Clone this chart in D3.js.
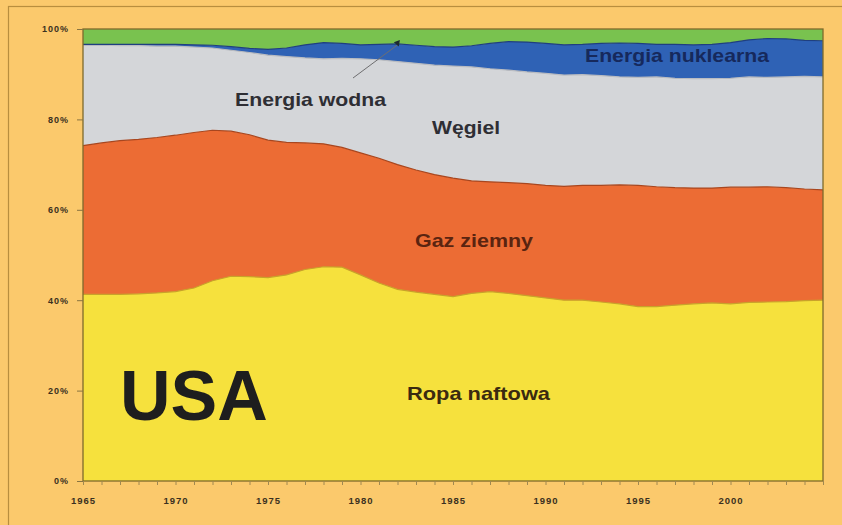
<!DOCTYPE html>
<html>
<head>
<meta charset="utf-8">
<script src="https://cdn.jsdelivr.net/npm/d3@7"></script>
<style>
  html, body { margin: 0; padding: 0; background: #FBC96C; }
  svg { display: block; }
</style>
</head>
<body>
<svg id="chart" width="842" height="525"></svg>
<script>
// US primary energy mix, share of total consumption (%), 1965–2005
const years = d3.range(1965, 2006);

const oil = [41.3,41.3,41.3,41.4,41.6,41.9,42.7,44.3,45.3,45.2,45.0,45.6,46.8,47.4,47.3,45.6,43.8,42.4,41.8,41.3,
             40.8,41.5,41.9,41.5,41.0,40.5,40.0,40.0,39.6,39.2,38.6,38.6,38.9,39.2,39.4,39.2,39.5,39.6,39.7,39.9,40.0];
const gas = [32.9,33.5,34.0,34.2,34.4,34.6,34.4,33.3,32.1,31.4,30.4,29.3,28.0,27.2,26.5,27.0,27.6,27.6,27.0,26.5,
             26.2,24.9,24.3,24.5,24.8,24.9,25.2,25.4,25.8,26.3,26.8,26.5,26.0,25.6,25.4,25.8,25.5,25.5,25.2,24.7,24.4];
const coal = [22.2,21.6,21.0,20.7,20.2,19.7,18.9,18.2,17.9,18.2,18.8,19.0,18.8,18.8,19.7,20.8,21.8,22.8,23.6,24.2,
              24.8,25.2,25.0,24.9,24.7,24.8,24.6,24.5,24.3,23.9,23.9,24.3,24.2,24.2,24.2,24.1,24.4,24.2,24.5,24.9,25.0];
const nuclear = [0.2,0.2,0.3,0.3,0.4,0.4,0.5,0.6,0.8,0.9,1.3,1.9,2.9,3.6,3.3,3.1,3.4,3.9,4.0,4.1,
                 4.2,4.7,5.6,6.3,6.6,6.6,6.7,6.7,7.1,7.5,7.5,7.2,7.5,7.5,7.6,7.9,8.2,8.6,8.4,8.0,8.0];
const hydro = [3.4,3.4,3.4,3.4,3.4,3.4,3.5,3.6,3.9,4.3,4.5,4.2,3.5,3.0,3.2,3.5,3.4,3.3,3.6,3.9,
               4.0,3.7,3.2,2.8,2.9,3.2,3.5,3.4,3.2,3.1,3.2,3.4,3.4,3.5,3.4,3.0,2.4,2.1,2.2,2.5,2.6];

const sourceKeys = ["oil", "gas", "coal", "nuclear", "hydro"];
const sourceNames = ["Ropa naftowa", "Gaz ziemny", "Węgiel", "Energia nuklearna", "Energia wodna"];
const fills   = ["#F6E13D", "#EC6C34", "#D4D6D9", "#2F62B5", "#79C24F"];
const strokes = ["#C9A22A", "#A8461F", "#B9BCC2", "#1F3F80", "#5C9A3A"];

const yTicks = [0, 20, 40, 60, 80, 100];
const xTicks = [1965, 1970, 1975, 1980, 1985, 1990, 1995, 2000];

const rows = years.map((yr, i) => ({
  year: yr, oil: oil[i], gas: gas[i], coal: coal[i], nuclear: nuclear[i], hydro: hydro[i]
}));

const svg = d3.select("#chart");
const W = 842, H = 525;
const plot = { left: 83, right: 823, top: 29, bottom: 481 };

// outer panel frame
svg.append("rect")
  .attr("x", 8.5).attr("y", 6.5).attr("width", W).attr("height", H)
  .attr("fill", "none").attr("stroke", "#B88E3E").attr("stroke-width", 1.2);

const x = d3.scaleLinear().domain([1965, 2005]).range([plot.left, plot.right]);
const y = d3.scaleLinear().domain([0, 100]).range([plot.bottom, plot.top]);

const stack = d3.stack().keys(sourceKeys);
const layers = stack(rows);

const area = d3.area()
  .x(d => x(d.data.year))
  .y0(d => y(d[0]))
  .y1(d => y(Math.min(100, d[1])));

const topLine = d3.line()
  .x(d => x(d.data.year))
  .y(d => y(Math.min(100, d[1])));

svg.append("g").selectAll("path.layer")
  .data(layers)
  .join("path")
  .attr("class", "layer")
  .attr("d", area)
  .attr("fill", (d, i) => fills[i]);

// darker edge along each boundary
svg.append("g").selectAll("path.edge")
  .data(layers.slice(0, 4))
  .join("path")
  .attr("class", "edge")
  .attr("d", topLine)
  .attr("fill", "none")
  .attr("stroke", (d, i) => strokes[i])
  .attr("stroke-width", 1.2);

// plot frame
svg.append("rect")
  .attr("x", plot.left).attr("y", plot.top)
  .attr("width", plot.right - plot.left).attr("height", plot.bottom - plot.top)
  .attr("fill", "none").attr("stroke", "#7E6A2C").attr("stroke-width", 1.3);

const tickFont = "Liberation Sans, Arial, sans-serif";

// y axis
const yAxis = d3.axisLeft(y)
  .tickValues(yTicks)
  .tickSize(6)
  .tickPadding(8)
  .tickFormat(d => d + "%");
const gy = svg.append("g").attr("transform", `translate(${plot.left},0)`).call(yAxis);
gy.select(".domain").remove();
gy.selectAll(".tick line").attr("stroke", "#8A7440");
gy.selectAll(".tick text")
  .attr("fill", "#3A3020")
  .style("font-family", tickFont)
  .style("font-size", "9px")
  .style("font-weight", "bold")
  .style("letter-spacing", "1px");

// x axis: yearly minor ticks, labelled every five years
const xAxisMinor = d3.axisBottom(x).tickValues(years).tickSize(4).tickFormat("");
const gxm = svg.append("g").attr("transform", `translate(0,${plot.bottom})`).call(xAxisMinor);
gxm.select(".domain").remove();
gxm.selectAll(".tick line").attr("stroke", "#A08850");

const xAxis = d3.axisBottom(x).tickValues(xTicks).tickSize(0).tickPadding(16).tickFormat(d3.format("d"));
const gx = svg.append("g").attr("transform", `translate(0,${plot.bottom})`).call(xAxis);
gx.select(".domain").remove();
gx.selectAll(".tick text")
  .attr("fill", "#3A3020")
  .style("font-family", tickFont)
  .style("font-size", "9.5px")
  .style("font-weight", "bold")
  .style("letter-spacing", "1px");

// series labels inside the areas
const labelFont = "Liberation Sans, Arial, Helvetica, sans-serif";
const seriesLabels = [
  { text: sourceNames[0], x: 407, y: 400, w: 143, color: "#3A2A10" },
  { text: sourceNames[1], x: 415, y: 247, w: 118, color: "#5A2410" },
  { text: sourceNames[2], x: 432, y: 134, w: 68,  color: "#2E2E34" },
  { text: sourceNames[3], x: 585, y: 62,  w: 184, color: "#16295C" },
  { text: sourceNames[4], x: 235, y: 106, w: 151, color: "#2E2E34" }
];
svg.append("g").selectAll("text")
  .data(seriesLabels)
  .join("text")
  .attr("x", d => d.x).attr("y", d => d.y)
  .attr("textLength", d => d.w)
  .attr("lengthAdjust", "spacingAndGlyphs")
  .attr("fill", d => d.color)
  .style("font-family", labelFont)
  .style("font-size", "19px")
  .style("font-weight", "bold")
  .text(d => d.text);

// leader from the hydro label to its thin band
const hydroYear = 1982;
const hydroIdx = years.indexOf(hydroYear);
const hydroBase = y(layers[4][hydroIdx][0]);
svg.append("line")
  .attr("x1", 353).attr("y1", 78)
  .attr("x2", x(hydroYear)).attr("y2", hydroBase + 1)
  .attr("stroke", "#6E6E70").attr("stroke-width", 1);
svg.append("path")
  .attr("d", d3.symbol(d3.symbolTriangle, 18)())
  .attr("transform", `translate(${x(hydroYear)},${hydroBase - 1}) rotate(40)`)
  .attr("fill", "#1E2A30");

// country title
svg.append("text")
  .attr("x", 120).attr("y", 420)
  .attr("fill", "#1E1E1E")
  .style("font-family", labelFont)
  .style("font-size", "70px")
  .style("font-weight", "bold")
  .text("USA");
</script>
</body>
</html>
